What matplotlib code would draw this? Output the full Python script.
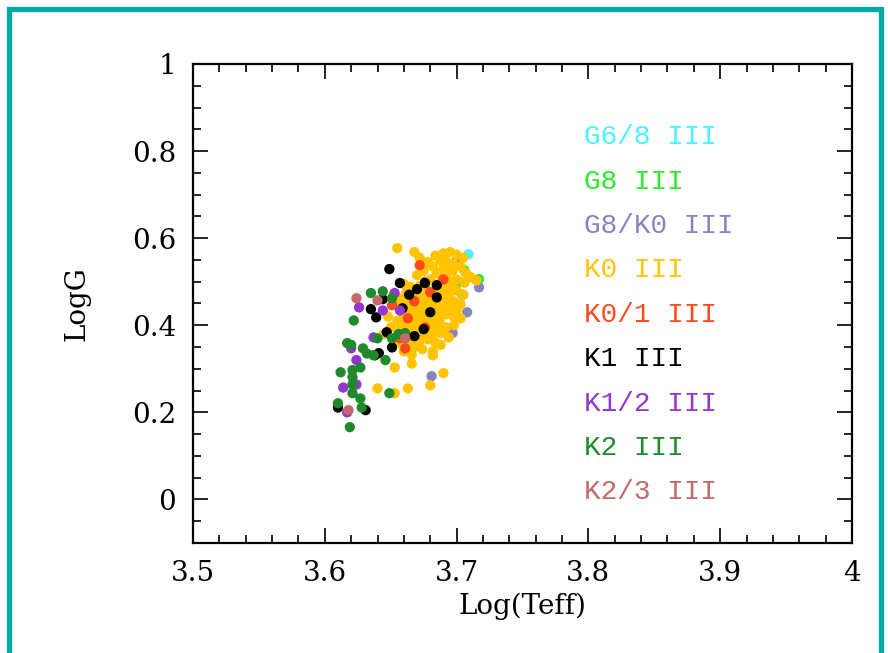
import matplotlib.pyplot as plt
from matplotlib.patches import Rectangle
from matplotlib.ticker import MultipleLocator

# spectral classes, colours and legend text
classes = ['G6/8 III', 'G8 III', 'G8/K0 III', 'K0 III', 'K0/1 III',
           'K1 III', 'K1/2 III', 'K2 III', 'K2/3 III']
colors = ['#4CF2FF', '#2EEA2E', '#8585C2', '#FFC300', '#FF4B1C',
          '#000000', '#9436D0', '#1F8A2C', '#C56868']

# Log(Teff), LogG per class
g68_x = [3.709, 3.704]
g68_y = [0.563, 0.470]

g8_x = [3.706, 3.717, 3.693, 3.697, 3.702]
g8_y = [0.526, 0.506, 0.487, 0.439, 0.500]

g8k0_x = [3.717, 3.681, 3.697, 3.690, 3.705, 3.685, 3.672, 3.700, 3.660, 3.708, 3.676]
g8k0_y = [0.487, 0.283, 0.382, 0.520, 0.470, 0.440, 0.375, 0.548, 0.392, 0.430, 0.500]

k0_x = [3.655, 3.668, 3.672, 3.684, 3.690, 3.695, 3.700, 3.705, 3.688, 3.693,
        3.698, 3.703, 3.678, 3.682, 3.690, 3.697, 3.707, 3.711, 3.715, 3.675,
        3.685, 3.692, 3.700, 3.706, 3.670, 3.680, 3.688, 3.696,
        3.660, 3.665, 3.672, 3.678, 3.684, 3.690, 3.695, 3.700, 3.705, 3.662,
        3.668, 3.674, 3.680, 3.686, 3.692, 3.698, 3.703, 3.658, 3.664, 3.670,
        3.676, 3.682, 3.688, 3.694, 3.700, 3.656, 3.662, 3.668, 3.674, 3.680,
        3.686, 3.692, 3.698, 3.703, 3.660, 3.666, 3.672, 3.678, 3.684,
        3.655, 3.662, 3.668, 3.674, 3.680, 3.686, 3.692, 3.658, 3.664, 3.670,
        3.676, 3.682, 3.688, 3.660, 3.666, 3.672, 3.678, 3.684, 3.656, 3.662,
        3.668, 3.674, 3.682, 3.660, 3.666, 3.653, 3.666, 3.682, 3.690, 3.640,
        3.663, 3.653, 3.680, 3.648, 3.650, 3.645, 3.652, 3.698, 3.694, 3.688,
        3.671, 3.677, 3.683, 3.689, 3.667, 3.673, 3.679, 3.685, 3.669, 3.675,
        3.681, 3.687, 3.671, 3.677, 3.683, 3.691, 3.695, 3.686, 3.679, 3.665]
k0_y = [0.577, 0.568, 0.555, 0.560, 0.565, 0.568, 0.562, 0.555, 0.548, 0.545,
        0.540, 0.535, 0.545, 0.535, 0.530, 0.525, 0.520, 0.510, 0.503, 0.525,
        0.520, 0.512, 0.505, 0.498, 0.515, 0.505, 0.500, 0.495,
        0.495, 0.488, 0.490, 0.480, 0.478, 0.485, 0.475, 0.480, 0.470, 0.475,
        0.470, 0.465, 0.462, 0.468, 0.460, 0.455, 0.448, 0.460, 0.455, 0.450,
        0.448, 0.450, 0.445, 0.440, 0.435, 0.445, 0.440, 0.435, 0.438, 0.432,
        0.430, 0.425, 0.420, 0.416, 0.425, 0.420, 0.425, 0.418, 0.415,
        0.410, 0.405, 0.408, 0.400, 0.402, 0.398, 0.395, 0.395, 0.390, 0.388,
        0.385, 0.380, 0.382, 0.375, 0.370, 0.365, 0.368, 0.360, 0.360, 0.355,
        0.350, 0.345, 0.340, 0.340, 0.332, 0.303, 0.312, 0.331, 0.290, 0.255,
        0.255, 0.244, 0.262, 0.420, 0.395, 0.380, 0.470, 0.400, 0.372, 0.355,
        0.457, 0.453, 0.458, 0.452, 0.442, 0.444, 0.441, 0.438, 0.428, 0.428,
        0.425, 0.410, 0.412, 0.410, 0.392, 0.470, 0.500, 0.490, 0.470, 0.400]

k01_x = [3.672, 3.680, 3.651, 3.663, 3.661, 3.657, 3.668, 3.690, 3.676]
k01_y = [0.538, 0.476, 0.446, 0.416, 0.347, 0.370, 0.455, 0.505, 0.395]

k1_x = [3.649, 3.657, 3.670, 3.676, 3.685, 3.685, 3.635, 3.639, 3.659, 3.647,
        3.651, 3.668, 3.675, 3.638, 3.641, 3.610, 3.631, 3.664, 3.680, 3.644]
k1_y = [0.529, 0.497, 0.483, 0.497, 0.492, 0.464, 0.437, 0.418, 0.439, 0.384,
        0.349, 0.375, 0.391, 0.331, 0.336, 0.211, 0.205, 0.470, 0.430, 0.460]

k12_x = [3.626, 3.644, 3.657, 3.653, 3.637, 3.624, 3.614, 3.624, 3.617, 3.620]
k12_y = [0.441, 0.434, 0.434, 0.474, 0.372, 0.320, 0.257, 0.264, 0.200, 0.347]

k2_x = [3.635, 3.644, 3.651, 3.622, 3.640, 3.651, 3.661, 3.617, 3.620, 3.629,
        3.637, 3.646, 3.612, 3.621, 3.627, 3.621, 3.621, 3.621, 3.627, 3.610,
        3.628, 3.619, 3.649, 3.656, 3.632]
k2_y = [0.474, 0.478, 0.462, 0.411, 0.370, 0.370, 0.382, 0.359, 0.355, 0.347,
        0.331, 0.320, 0.292, 0.297, 0.303, 0.281, 0.264, 0.244, 0.232, 0.221,
        0.211, 0.166, 0.244, 0.380, 0.335]

k23_x = [3.624, 3.640, 3.661, 3.618]
k23_y = [0.462, 0.457, 0.370, 0.205]

xs = [g68_x, g8_x, g8k0_x, k0_x, k01_x, k1_x, k12_x, k2_x, k23_x]
ys = [g68_y, g8_y, g8k0_y, k0_y, k01_y, k1_y, k12_y, k2_y, k23_y]

fig = plt.figure(figsize=(8.88, 6.53), dpi=100)
ax = fig.add_axes([0.2173, 0.1685, 0.7422, 0.7335])

for x, y, c in zip(xs, ys, colors):
    ax.scatter(x, y, s=55, color=c, edgecolors='none', zorder=3)

ax.set_xlim(3.5, 4.0)
ax.set_ylim(-0.1, 1.0)
ax.xaxis.set_major_locator(MultipleLocator(0.1))
ax.xaxis.set_minor_locator(MultipleLocator(0.02))
ax.yaxis.set_major_locator(MultipleLocator(0.2))
ax.yaxis.set_minor_locator(MultipleLocator(0.05))
ax.set_xticks([3.5, 3.6, 3.7, 3.8, 3.9, 4.0], ['3.5', '3.6', '3.7', '3.8', '3.9', '4'])
ax.set_yticks([0, 0.2, 0.4, 0.6, 0.8, 1.0], ['0', '0.2', '0.4', '0.6', '0.8', '1'])
ax.tick_params(which='both', direction='in', top=True, right=True, width=1.2)
ax.tick_params(which='major', length=11, labelsize=20, pad=12)
ax.tick_params(which='minor', length=6)
for lab in ax.get_xticklabels() + ax.get_yticklabels():
    lab.set_fontfamily('DejaVu Serif')
for sp in ax.spines.values():
    sp.set_linewidth(1.6)

ax.set_xlabel('Log(Teff)', fontsize=20, family='DejaVu Serif', labelpad=4)
ax.set_ylabel('LogG', fontsize=20, family='DejaVu Serif', labelpad=30)

for i, (name, c) in enumerate(zip(classes, colors)):
    ax.text(3.797, 0.832 - i * 0.102, name, color=c, fontsize=20,
            family='Liberation Mono', va='center', ha='left')

# teal frame around the picture
fig.add_artist(Rectangle((9 / 888, -0.1), 872 / 888, 1.0 - 9 / 653 + 0.1,
                         transform=fig.transFigure, fill=False,
                         edgecolor='#00A8A6', linewidth=3.8))

fig.savefig('out.png', dpi=100)
